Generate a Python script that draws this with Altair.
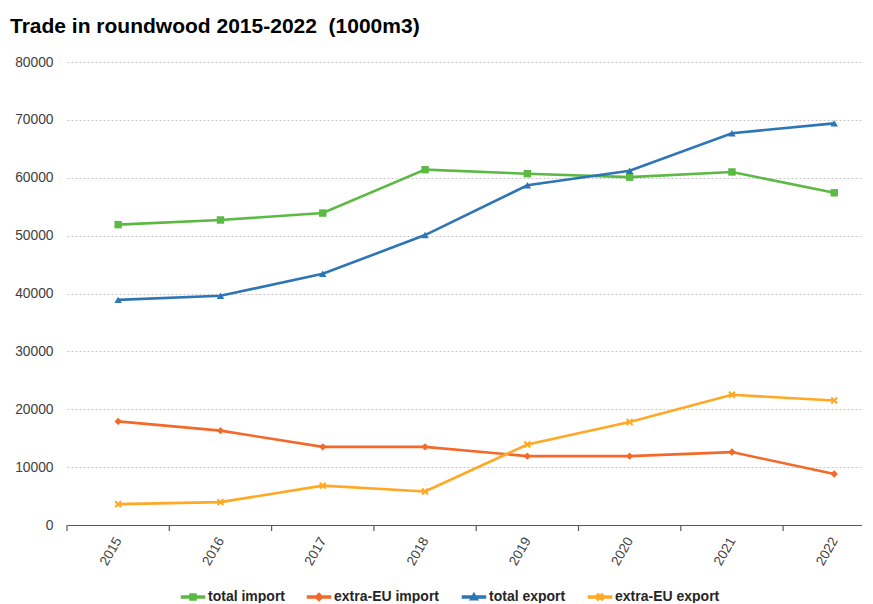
import altair as alt
import pandas as pd

years = [2015, 2016, 2017, 2018, 2019, 2020, 2021, 2022]
series_names = ["total import", "extra-EU import", "total export", "extra-EU export"]
total_import = [51900, 52700, 53900, 61400, 60700, 60100, 61000, 57400]
extra_eu_import = [17900, 16300, 13500, 13500, 11900, 11900, 12600, 8800]
total_export = [38900, 39600, 43400, 50100, 58700, 61200, 67700, 69400]
extra_eu_export = [3600, 3950, 6800, 5800, 13900, 17800, 22500, 21500]
colors = ["#5BB944", "#F4692A", "#2E75B6", "#FFA824"]
y_ticks = [0, 10000, 20000, 30000, 40000, 50000, 60000, 70000, 80000]

FONT = "Liberation Sans"

values = [total_import, extra_eu_import, total_export, extra_eu_export]
rows = []
for name, vals in zip(series_names, values):
    for yr, v in zip(years, vals):
        rows.append({"year": yr, "series": name, "value": v})
df = pd.DataFrame(rows)
bounds_df = pd.DataFrame({"b": [y - 0.5 for y in years]})

W, H = 795, 463
x_dom = [2014.5, 2014.5 + W / 102.3]
x_scale = alt.Scale(domain=x_dom, nice=False, zero=False)
x_axis = alt.Axis(values=years, format="d", labelAngle=-60, ticks=False, grid=False,
                  labelPadding=13, labelFontSize=13.5, labelColor="#404040",
                  labelFont=FONT, domainColor="#595959", domainWidth=1.2, title=None)

xq = alt.X("year:Q", scale=x_scale, axis=x_axis)
yq = alt.Y("value:Q", scale=alt.Scale(domain=[0, 80000], nice=False),
           axis=alt.Axis(values=y_ticks, format="d", domain=False, ticks=False, labelPadding=14,
                         labelFontSize=13.8, labelColor="#404040", labelFont=FONT,
                         gridDash=[2, 2], gridColor="#C8C8C8", gridWidth=1, title=None))

color_scale = alt.Scale(domain=series_names, range=colors)

line_part = "M-2.3,-0.22H2.3V0.22H-2.3Z"
legend_shapes = [
    line_part + "M-0.6,-0.6H0.6V0.6H-0.6Z",
    line_part + "M0,-0.75L0.75,0L0,0.75L-0.75,0Z",
    line_part + "M0,-0.75L0.75,0.55L-0.75,0.55Z",
    line_part + "M-0.65,-0.39L-0.39,-0.65L0,-0.26L0.39,-0.65L0.65,-0.39L0.26,0L0.65,0.39L0.39,0.65L0,0.26L-0.39,0.65L-0.65,0.39L-0.26,0Z",
]
leg = alt.Legend(orient="none", legendX=119, legendY=528, direction="horizontal", title=None,
                 columnPadding=19, labelOffset=8, labelFontSize=14, labelFont=FONT,
                 labelFontWeight="bold", labelColor="#262626", padding=0, symbolOpacity=1)
legend_layer = alt.Chart(df).mark_point(
    filled=True, size=100, opacity=0).encode(
    x=xq, y=yq,
    color=alt.Color("series:N", scale=color_scale, legend=leg, sort=series_names),
    shape=alt.Shape("series:N", scale=alt.Scale(domain=series_names, range=legend_shapes),
                    legend=leg, sort=series_names),
)

ticks = alt.Chart(bounds_df).mark_rule(color="#595959", strokeWidth=1.2).encode(
    x=alt.X("b:Q", scale=x_scale, axis=x_axis),
    y=alt.value(H), y2=alt.value(H + 6))

lines = alt.Chart(df).mark_line(strokeWidth=2.6).encode(
    x=xq, y=yq, color=alt.Color("series:N", scale=color_scale, legend=None),
    detail="series:N")

chart_shapes = [
    "square",
    "diamond",
    "triangle-up",
    "M-1,-0.6L-0.6,-1L0,-0.4L0.6,-1L1,-0.6L0.4,0L1,0.6L0.6,1L0,0.4L-0.6,1L-1,0.6L-0.4,0Z",
]
point_layers = []
for name, shp in zip(series_names, chart_shapes):
    point_layers.append(
        alt.Chart(df).transform_filter(alt.datum.series == name)
        .mark_point(filled=True, size=55, opacity=1, shape=shp)
        .encode(x=xq, y=yq, color=alt.Color("series:N", scale=color_scale, legend=None))
    )

chart = alt.layer(legend_layer, ticks, lines, *point_layers).properties(
    width=W, height=H,
    autosize=alt.AutoSizeParams(type="none"),
    padding={"left": 59, "top": 54, "right": 0, "bottom": 78},
    title=alt.TitleParams("Trade in roundwood 2015-2022\u00a0 (1000m3)", anchor="start", frame="group",
                          dx=-57, fontSize=21, fontWeight="bold", font=FONT, color="#000000",
                          offset=18),
).configure_view(stroke=None)

chart.save("out.html", embed_options={"renderer": "svg", "actions": False})
